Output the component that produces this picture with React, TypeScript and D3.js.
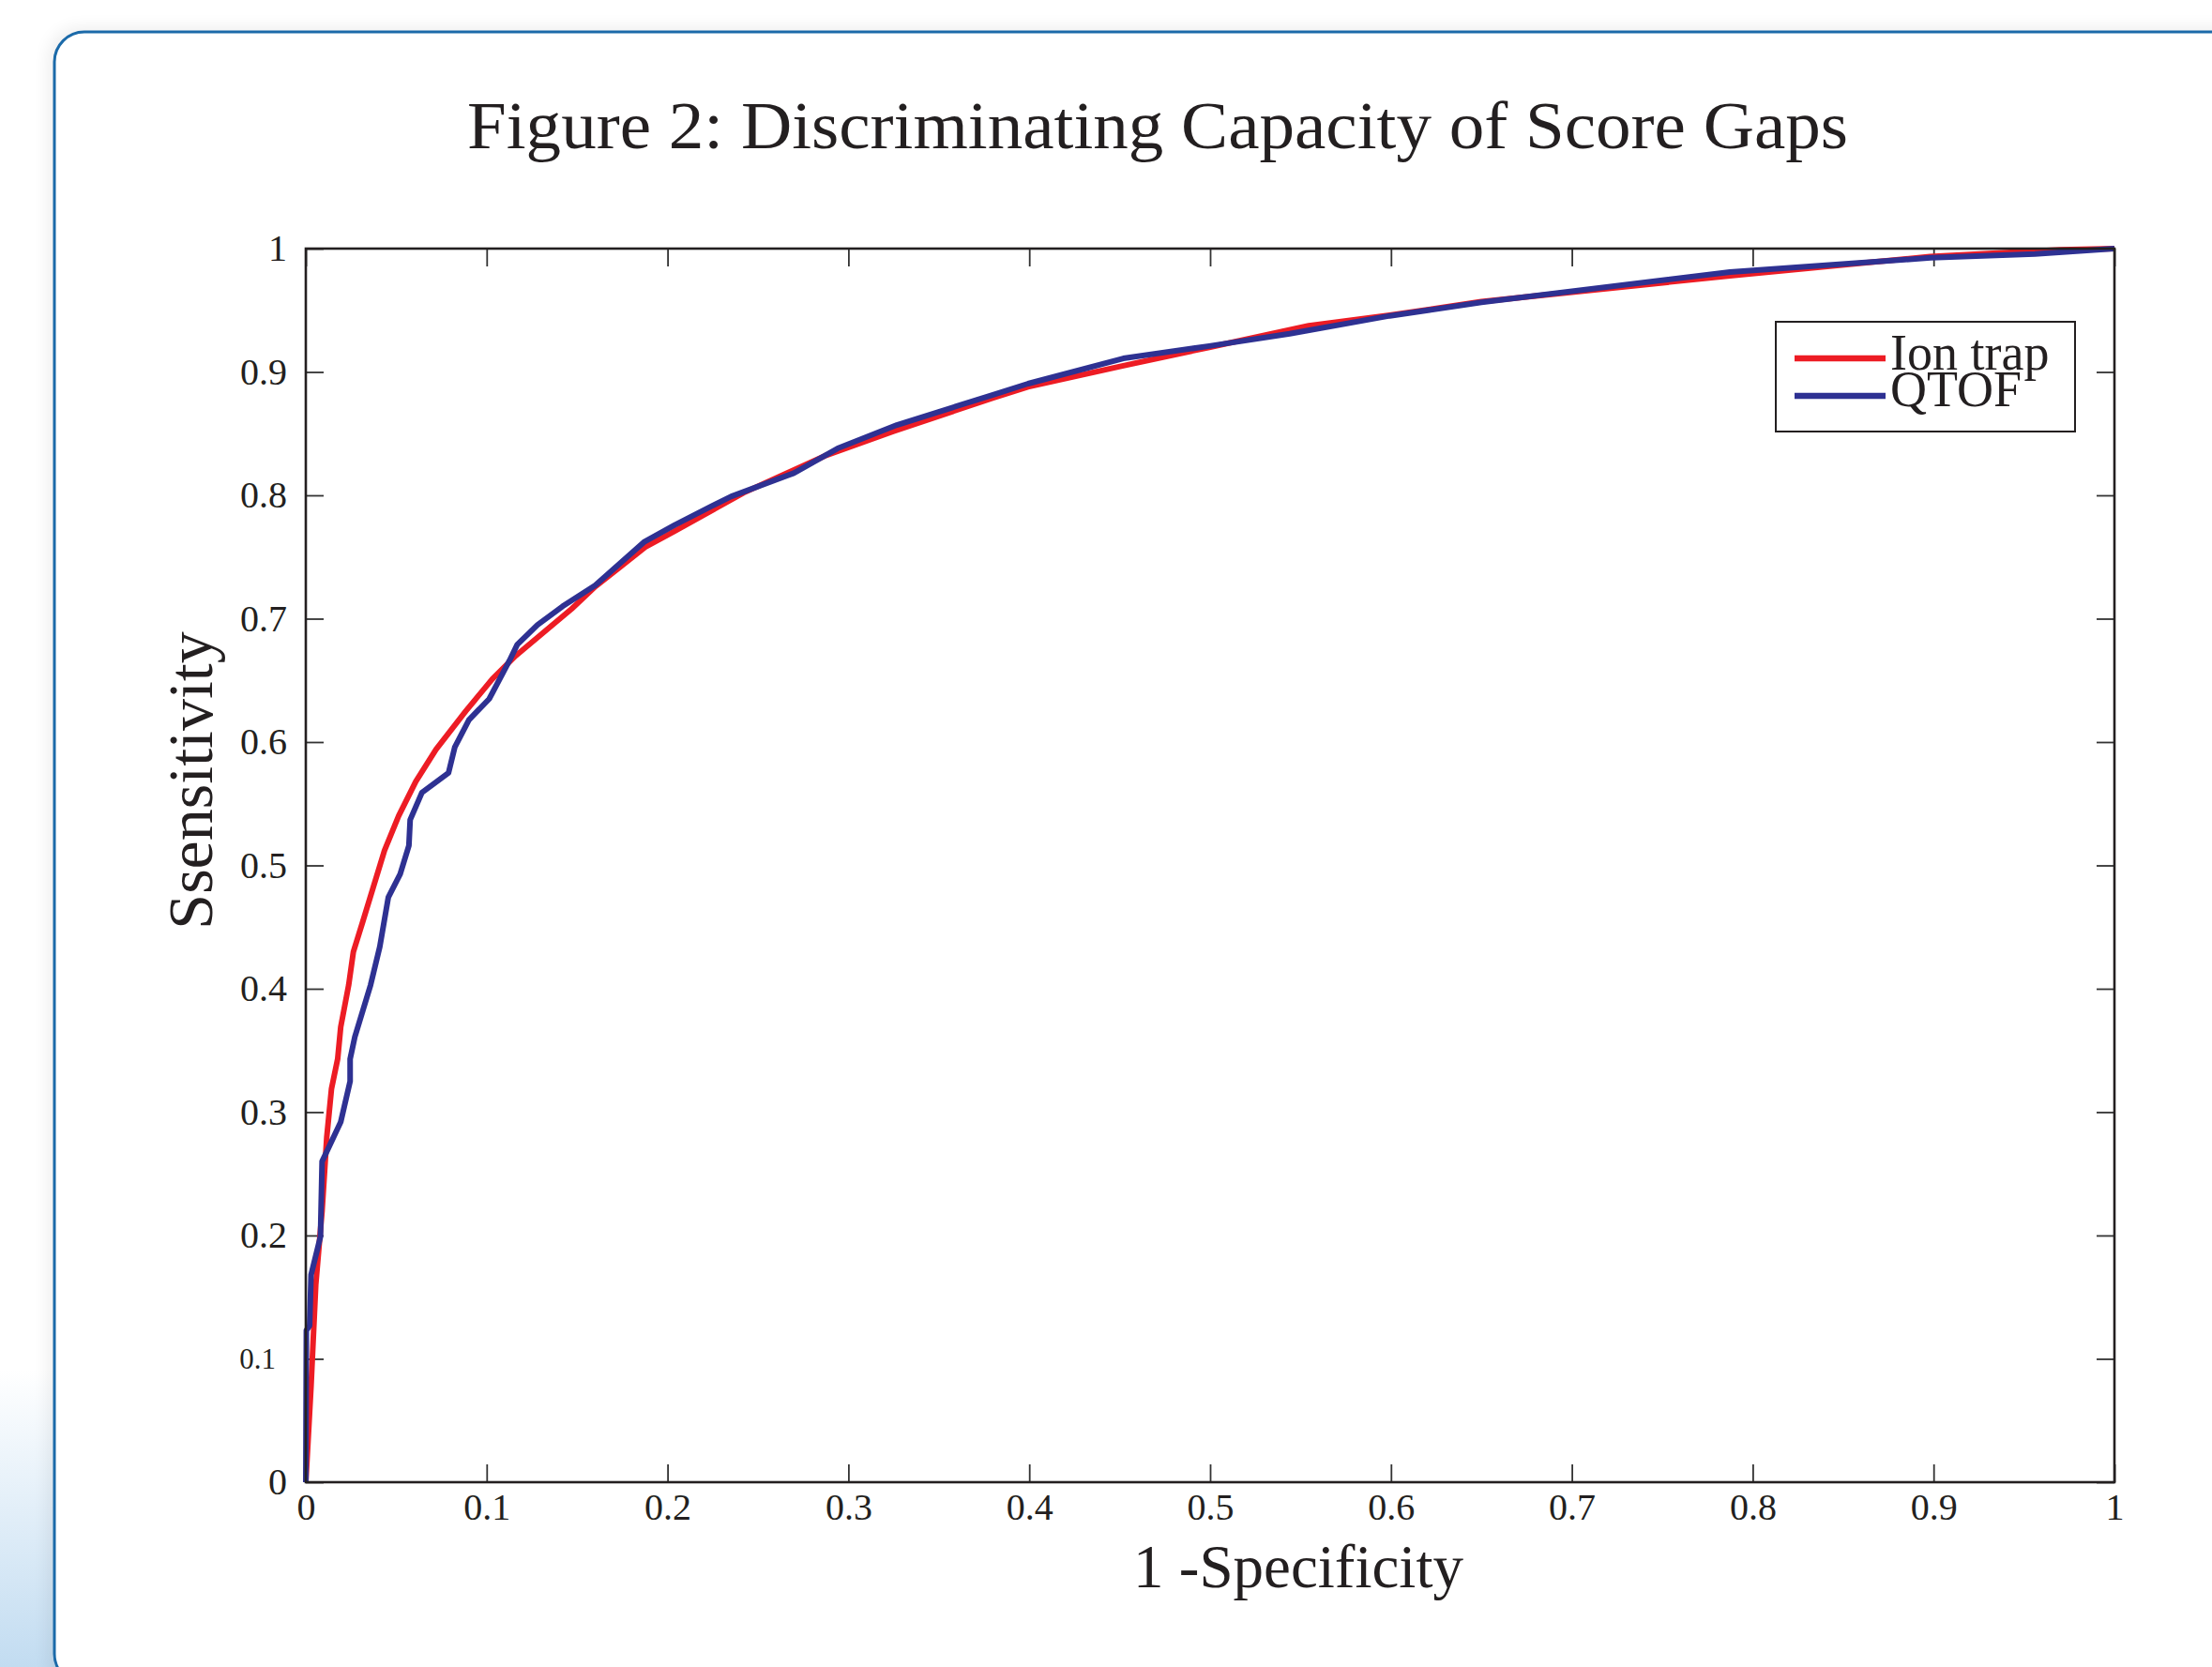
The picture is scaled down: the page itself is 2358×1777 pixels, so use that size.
import { useEffect, useRef } from 'react';
import * as d3 from 'd3';

const W = 2358;
const H = 1777;

// ROC points (1 - specificity, sensitivity)
const ionTrapFpr = [0, 0.0029, 0.0055, 0.009, 0.0116, 0.0142, 0.0176, 0.0193, 0.0237, 0.0263, 0.0314, 0.0435, 0.0513, 0.0608, 0.072, 0.0884, 0.1031, 0.1161, 0.147, 0.16, 0.173, 0.1877, 0.204, 0.242, 0.287, 0.325, 0.38, 0.3993, 0.452, 0.4995, 0.5545, 0.5993, 0.65, 0.7874, 0.898, 0.97, 1];
const ionTrapTpr = [0, 0.078, 0.16, 0.22, 0.28, 0.319, 0.343, 0.369, 0.403, 0.43, 0.454, 0.512, 0.54, 0.568, 0.594, 0.625, 0.651, 0.67, 0.708, 0.726, 0.741, 0.758, 0.771, 0.802, 0.832, 0.852, 0.879, 0.888, 0.905, 0.92, 0.9375, 0.946, 0.957, 0.978, 0.9935, 0.999, 1];

const qtofFpr = [0, 0.0003, 0.0021, 0.0029, 0.0081, 0.009, 0.0193, 0.0245, 0.0245, 0.0271, 0.0358, 0.0409, 0.0456, 0.0522, 0.057, 0.0577, 0.0642, 0.0789, 0.0824, 0.0902, 0.1014, 0.1126, 0.1169, 0.1281, 0.142, 0.16, 0.1869, 0.204, 0.224, 0.235, 0.2698, 0.294, 0.3268, 0.38, 0.3993, 0.452, 0.4995, 0.544, 0.5993, 0.65, 0.7874, 0.8984, 0.956, 1];
const qtofTpr = [0, 0.123, 0.127, 0.168, 0.199, 0.26, 0.292, 0.325, 0.343, 0.361, 0.403, 0.434, 0.474, 0.493, 0.516, 0.537, 0.559, 0.575, 0.596, 0.618, 0.635, 0.666, 0.679, 0.695, 0.71, 0.727, 0.762, 0.776, 0.791, 0.799, 0.818, 0.838, 0.857, 0.8815, 0.8905, 0.911, 0.921, 0.931, 0.9455, 0.9564, 0.981, 0.9925, 0.9957, 1];

const tickValues = [0, 0.1, 0.2, 0.3, 0.4, 0.5, 0.6, 0.7, 0.8, 0.9, 1];
const tickLabels = ['0', '0.1', '0.2', '0.3', '0.4', '0.5', '0.6', '0.7', '0.8', '0.9', '1'];

const seriesNames = ['Ion trap', 'QTOF'];
const seriesColors = ['#ed1c24', '#2e3192'];

const FONT = '"Liberation Serif", "Times New Roman", serif';
const INK = '#231f20';

function RocChart() {
  const svgRef = useRef(null);

  useEffect(() => {
    const svg = d3.select(svgRef.current);
    svg.selectAll('*').remove();

    const left = 326, right = 2254, top = 265, bottom = 1580;
    const x = d3.scaleLinear().domain([0, 1]).range([left, right]);
    const y = d3.scaleLinear().domain([0, 1]).range([bottom, top]);

    const defs = svg.append('defs');
    const grad = defs.append('linearGradient')
      .attr('id', 'cornerBlue')
      .attr('x1', 0).attr('y1', 0).attr('x2', 0).attr('y2', 1);
    grad.append('stop').attr('offset', '0%').attr('stop-color', '#ffffff');
    grad.append('stop').attr('offset', '100%').attr('stop-color', '#c2dcf1');

    defs.append('filter')
      .attr('id', 'soft')
      .attr('x', '-5%').attr('y', '-5%').attr('width', '110%').attr('height', '110%')
      .append('feGaussianBlur')
      .attr('stdDeviation', 9);

    // page background + blue tint in lower left corner
    svg.append('rect').attr('width', W).attr('height', H).attr('fill', '#fff');
    svg.append('rect')
      .attr('x', 0).attr('y', 1460).attr('width', 70).attr('height', H - 1460)
      .attr('fill', 'url(#cornerBlue)');

    // framed panel
    svg.append('rect')
      .attr('x', 52).attr('y', 30).attr('width', 2400).attr('height', 1770)
      .attr('rx', 32)
      .attr('fill', '#000').attr('opacity', 0.07)
      .attr('filter', 'url(#soft)');
    svg.append('rect')
      .attr('x', 58).attr('y', 34).attr('width', 2400).attr('height', 1761)
      .attr('rx', 32)
      .attr('fill', '#fff')
      .attr('stroke', '#1b6aa9')
      .attr('stroke-width', 3);

    // Title
    svg.append('text')
      .attr('x', 1234).attr('y', 158)
      .attr('text-anchor', 'middle')
      .attr('font-family', FONT)
      .attr('font-size', 72)
      .attr('textLength', 1472)
      .attr('lengthAdjust', 'spacingAndGlyphs')
      .attr('fill', INK)
      .text('Figure 2: Discriminating Capacity of Score Gaps');

    // Axes (ticks point inward on all four sides)
    const styleAxis = (g) => {
      g.select('.domain').remove();
      g.selectAll('.tick line').attr('stroke', '#333').attr('stroke-width', 1.8);
      g.selectAll('.tick text')
        .attr('font-family', FONT)
        .attr('font-size', 40)
        .attr('fill', INK);
    };

    const fmt = (d) => tickLabels[tickValues.indexOf(d)];

    svg.append('g')
      .attr('transform', `translate(0,${bottom})`)
      .call(d3.axisBottom(x).tickValues(tickValues).tickSizeInner(-19).tickSizeOuter(0).tickPadding(12).tickFormat(fmt))
      .call(styleAxis);

    const yAxis = svg.append('g')
      .attr('transform', `translate(${left},0)`)
      .call(d3.axisLeft(y).tickValues(tickValues).tickSizeInner(-19).tickSizeOuter(0).tickPadding(20).tickFormat(fmt))
      .call(styleAxis);
    yAxis.selectAll('.tick text')
      .filter((d) => d === 0.1)
      .attr('font-size', 31)
      .attr('x', -32);

    svg.append('g')
      .attr('transform', `translate(0,${top})`)
      .call(d3.axisTop(x).tickValues(tickValues).tickSizeInner(-19).tickSizeOuter(0).tickFormat(() => ''))
      .call(styleAxis);

    svg.append('g')
      .attr('transform', `translate(${right},0)`)
      .call(d3.axisRight(y).tickValues(tickValues).tickSizeInner(-19).tickSizeOuter(0).tickFormat(() => ''))
      .call(styleAxis);

    // Curves
    const line = d3.line().x((d) => x(d[0])).y((d) => y(d[1]));
    const series = [
      d3.zip(ionTrapFpr, ionTrapTpr),
      d3.zip(qtofFpr, qtofTpr),
    ];
    series.forEach((pts, i) => {
      svg.append('path')
        .datum(pts)
        .attr('fill', 'none')
        .attr('stroke', seriesColors[i])
        .attr('stroke-width', 6)
        .attr('stroke-linejoin', 'round')
        .attr('d', line);
    });

    // Plot box
    svg.append('rect')
      .attr('x', left).attr('y', top)
      .attr('width', right - left).attr('height', bottom - top)
      .attr('fill', 'none')
      .attr('stroke', INK)
      .attr('stroke-width', 2.6);

    // Axis labels
    svg.append('text')
      .attr('x', 1384).attr('y', 1692)
      .attr('text-anchor', 'middle')
      .attr('font-family', FONT)
      .attr('font-size', 65)
      .attr('fill', INK)
      .text('1 -Specificity');

    svg.append('text')
      .attr('transform', 'translate(226,832) rotate(-90)')
      .attr('text-anchor', 'middle')
      .attr('font-family', FONT)
      .attr('font-size', 68)
      .attr('fill', INK)
      .text('Ssensitivity');

    // Legend
    const lg = svg.append('g');
    lg.append('rect')
      .attr('x', 1893).attr('y', 343).attr('width', 319).attr('height', 117)
      .attr('fill', '#fff')
      .attr('stroke', INK)
      .attr('stroke-width', 2);
    seriesNames.forEach((name, i) => {
      const ly = 382 + i * 40;
      lg.append('line')
        .attr('x1', 1913).attr('x2', 2010)
        .attr('y1', ly).attr('y2', ly)
        .attr('stroke', seriesColors[i])
        .attr('stroke-width', 6.5);
      lg.append('text')
        .attr('x', 2015).attr('y', ly + 12 - i * 1)
        .attr('font-family', FONT)
        .attr('font-size', 54)
        .attr('fill', INK)
        .text(name);
    });
  }, []);

  return (
    <svg
      ref={svgRef}
      width={W}
      height={H}
      style={{ position: 'absolute', left: 0, top: 0, display: 'block' }}
    />
  );
}

export default function App() {
  return <RocChart />;
}
